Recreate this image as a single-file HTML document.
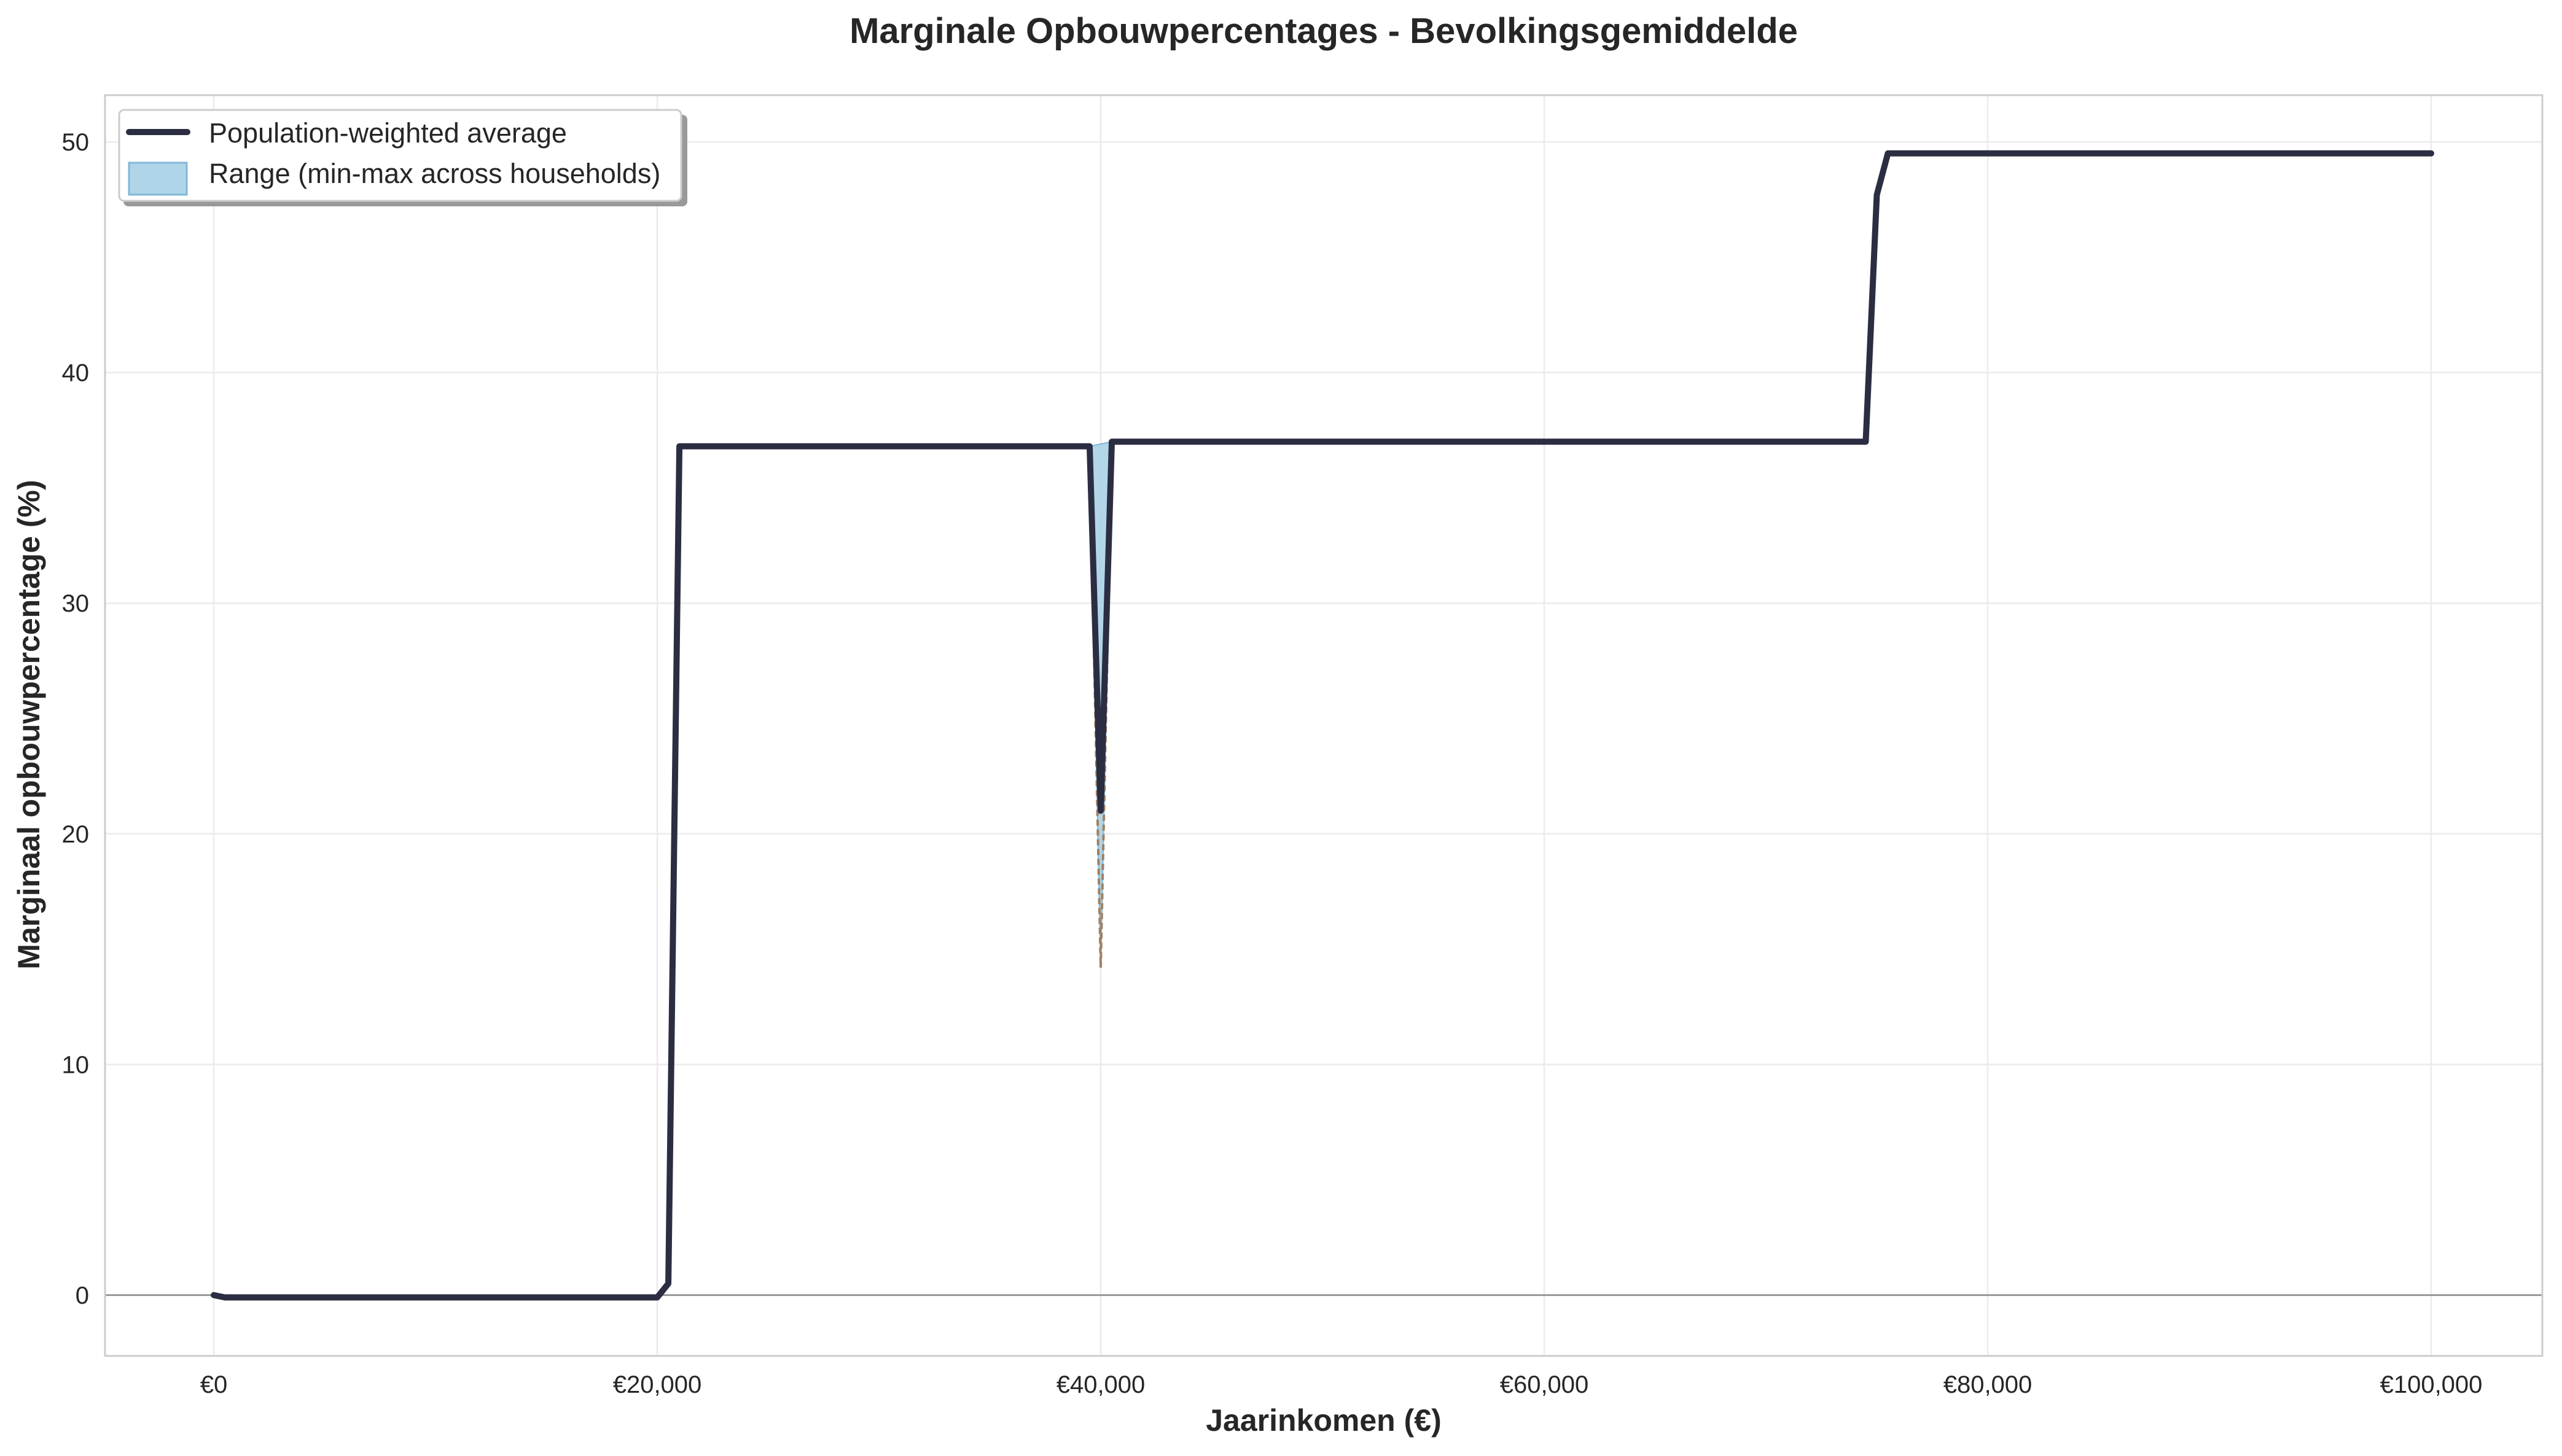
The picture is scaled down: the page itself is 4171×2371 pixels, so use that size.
<!DOCTYPE html>
<html><head><meta charset="utf-8"><style>
html,body{margin:0;padding:0;background:#fff;}
svg{display:block;font-family:"Liberation Sans",Arial,sans-serif;}
</style></head><body>
<svg id="chart" width="4171" height="2371" viewBox="0 0 4171 2371" xmlns="http://www.w3.org/2000/svg">
<rect width="4171" height="2371" fill="#fff"/>
<text x="2155" y="70" text-anchor="middle" font-size="58" font-weight="bold" fill="#262626">Marginale Opbouwpercentages - Bevolkingsgemiddelde</text>
<g id="grid"></g>
<g id="ticks"></g>
<g id="marks"></g>
<rect x="171" y="155" width="3968" height="2053" fill="none" stroke="#cccccc" stroke-width="3"/>
<text x="2155" y="2330" text-anchor="middle" font-size="50" font-weight="bold" fill="#262626">Jaarinkomen (€)</text>
<text x="64" y="1180" text-anchor="middle" font-size="50" font-weight="bold" fill="#262626" transform="rotate(-90 64 1180)">Marginaal opbouwpercentage (%)</text>
<g>
<rect x="201" y="187" width="918" height="149" rx="8" fill="#999"/>
<rect x="194" y="179" width="915" height="148" rx="8" fill="#fff" stroke="#cccccc" stroke-width="3"/>
<line x1="210" y1="215" x2="305" y2="215" stroke="#2b2d42" stroke-width="10" stroke-linecap="round"/>
<rect x="210" y="265" width="94" height="52" fill="#b0d5e8" stroke="#7fb8d8" stroke-width="3"/>
<text x="340" y="232" font-size="45" fill="#262626">Population-weighted average</text>
<text x="340" y="298" font-size="45" fill="#262626">Range (min-max across households)</text>
</g>
</svg>
<script>
const incomes = [0,500,1000,5000,10000,15000,19500,20000,20500,21000,25000,30000,35000,39500,40000,40500,45000,50000,60000,70000,74500,75000,75500,80000,90000,100000];
const avgRate = [0,-0.1,-0.1,-0.1,-0.1,-0.1,-0.1,-0.1,0.5,36.8,36.8,36.8,36.8,36.8,21,37,37,37,37,37,37,47.7,49.5,49.5,49.5,49.5];
const rangeX = [39500,40000,40500];
const rangeMin = [36.8,14.2,37];
const rangeMax = [36.8,36.9,37];
const xTickVals = [0,20000,40000,60000,80000,100000];
const xTickLabels = ["€0","€20,000","€40,000","€60,000","€80,000","€100,000"];
const yTickVals = [0,10,20,30,40,50];
const yTickLabels = ["0","10","20","30","40","50"];

const NS="http://www.w3.org/2000/svg";
const xs = v => 348 + (v/100000)*(3958-348);
const ys = v => 2109 - v*37.56;
function mk(tag, attrs, parent){const e=document.createElementNS(NS,tag);for(const k in attrs)e.setAttribute(k,attrs[k]);document.getElementById(parent).appendChild(e);return e;}

xTickVals.forEach((v,i)=>{
  const g=mk('line',{x1:xs(v),x2:xs(v),y1:155,y2:2208,stroke:'#ebebeb','stroke-width':2.5},'grid');
  
  
  const t=mk('text',{x:xs(v),y:2268,'text-anchor':'middle','font-size':40,fill:'#262626'},'ticks');
  t.textContent=xTickLabels[i];
  
  
});
yTickVals.forEach((v,i)=>{
  const g=mk('line',{x1:171,x2:4139,y1:ys(v),y2:ys(v),stroke:'#ebebeb','stroke-width':2.5},'grid');
  
  
  const t=mk('text',{x:145,y:ys(v)+14,'text-anchor':'end','font-size':40,fill:'#262626'},'ticks');
  t.textContent=yTickLabels[i];
  
  
});
const zl=mk('line',{x1:171,x2:4139,y1:ys(0),y2:ys(0),stroke:'#888','stroke-width':2.5},'marks');



let d='';
rangeX.forEach((x,i)=>{d+=(i?'L':'M')+xs(x)+','+ys(rangeMax[i]);});
for(let i=rangeX.length-1;i>=0;i--) d+='L'+xs(rangeX[i])+','+ys(rangeMin[i]);
const area=mk('path',{d:d+'Z',fill:'#a6cfe4','fill-opacity':0.85,stroke:'#7fb8d8','stroke-width':2},'marks');



let dm='';
rangeX.forEach((x,i)=>{dm+=(i?'L':'M')+xs(x)+','+ys(rangeMin[i]);});
const minL=mk('path',{d:dm,fill:'none',stroke:'#a08060','stroke-width':4,'stroke-dasharray':'10 6'},'marks');



let da='';
incomes.forEach((x,i)=>{da+=(i?'L':'M')+xs(x)+','+ys(avgRate[i]);});
const avg=mk('path',{d:da,fill:'none',stroke:'#2b2d42','stroke-width':10,'stroke-linejoin':'round','stroke-linecap':'round'},'marks');


</script>
</body></html>
